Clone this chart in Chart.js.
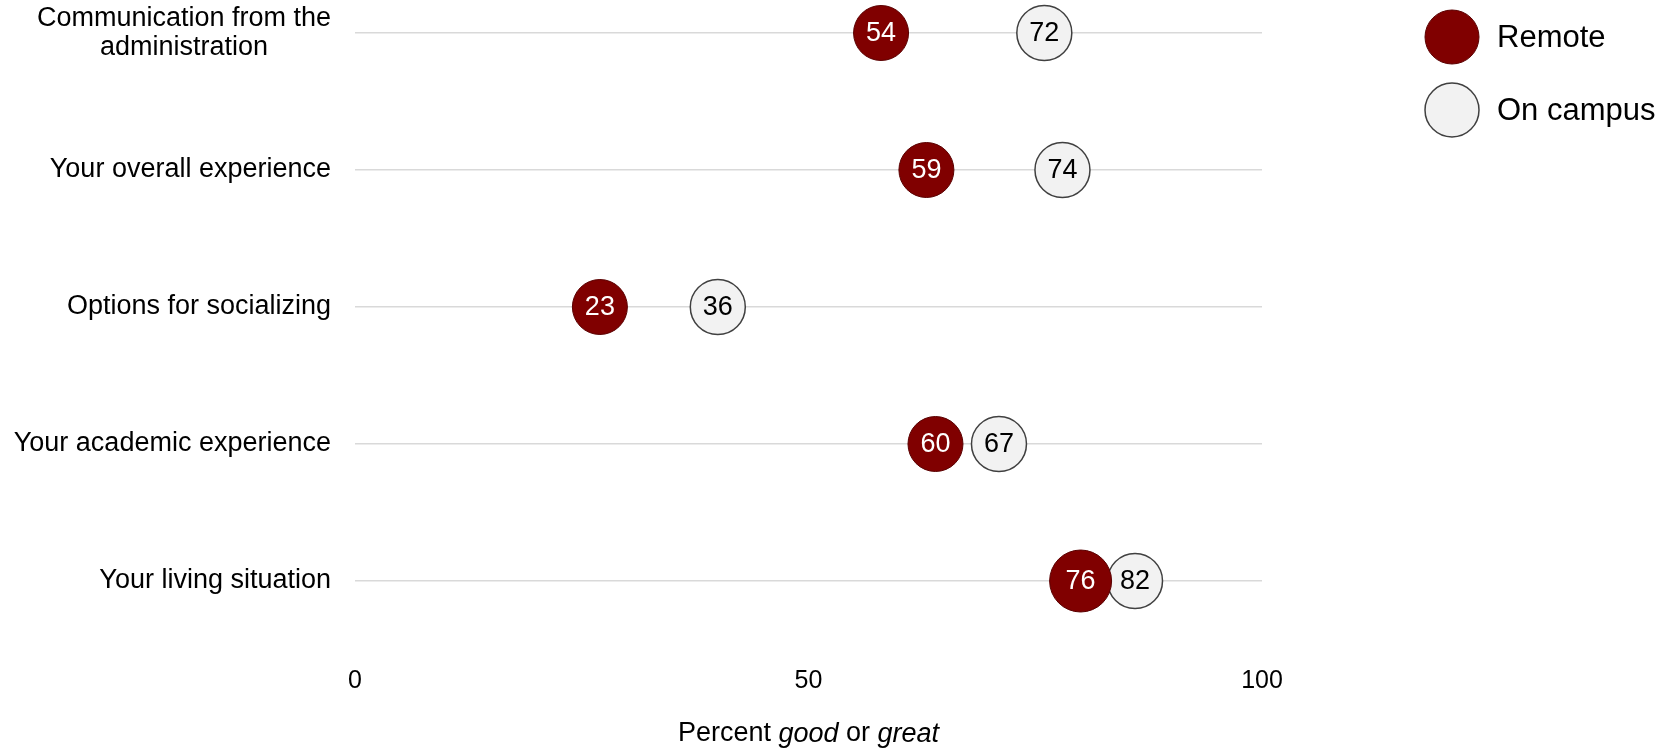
<!DOCTYPE html>
<html>
<head>
<meta charset="utf-8">
<title>Remote vs on campus</title>
<script src="https://cdn.jsdelivr.net/npm/chart.js@4/dist/chart.umd.min.js"></script>
<style>
  body { margin: 0; background: #fff; }
  #wrap { width: 1677px; height: 749px; }
</style>
</head>
<body>
<div id="wrap"><canvas id="chart"></canvas></div>
<script>
// Data
const categories = [
  ["Communication from the", "administration"],
  "Your overall experience",
  "Options for socializing",
  "Your academic experience",
  "Your living situation"
];
const remoteValues = [54, 59, 23, 60, 76];
const campusValues = [72, 74, 36, 67, 82];
const seriesNames = ["Remote", "On campus"];
const xTicks = [0, 50, 100];
const axisTitle = [["Percent ", false], ["good", true], [" or ", false], ["great", true]];

const FONT = '"Liberation Sans", Arial, sans-serif';

function toPoints(values) {
  return values.map((v, i) => ({ x: v, y: i }));
}

// draws category labels, value labels, legend and the mixed-style axis title
const extras = {
  id: "extras",
  afterDatasetsDraw(chart) {
    const ctx = chart.ctx;
    ctx.save();
    ctx.font = "27px " + FONT;
    ctx.textAlign = "center";
    ctx.textBaseline = "middle";
    chart.data.datasets.forEach((ds, i) => {
      const meta = chart.getDatasetMeta(i);
      ctx.fillStyle = ds.labelColor;
      meta.data.forEach((pt, j) => {
        ctx.fillText(String(ds.data[j].x), pt.x, pt.y + 1);
      });
    });
    ctx.restore();
  },
  afterDraw(chart) {
    const ctx = chart.ctx;
    const area = chart.chartArea;
    const yScale = chart.scales.y;
    ctx.save();
    ctx.fillStyle = "#000";
    ctx.textBaseline = "middle";

    // category labels
    ctx.font = "27px " + FONT;
    const right = area.left - 24;
    categories.forEach((cat, i) => {
      const lines = Array.isArray(cat) ? cat : [cat];
      const widest = Math.max(...lines.map(l => ctx.measureText(l).width));
      const cy = yScale.getPixelForValue(i);
      const lh = 29;
      ctx.textAlign = "center";
      lines.forEach((l, k) => {
        ctx.fillText(l, right - widest / 2, cy + (k - (lines.length - 1) / 2) * lh);
      });
    });

    // legend
    ctx.font = "31px " + FONT;
    ctx.textAlign = "left";
    chart.data.datasets.forEach((ds, i) => {
      const cy = 37 + i * 73;
      ctx.beginPath();
      ctx.arc(1452, cy, 27, 0, Math.PI * 2);
      ctx.fillStyle = ds.backgroundColor;
      ctx.fill();
      ctx.lineWidth = ds.borderWidth;
      ctx.strokeStyle = ds.borderColor;
      ctx.stroke();
      ctx.fillStyle = "#000";
      ctx.fillText(ds.label, 1497, cy + 1);
    });

    // x axis title with italic words
    const parts = axisTitle.map(([t, it]) => {
      ctx.font = (it ? "italic " : "") + "27px " + FONT;
      return { t, it, w: ctx.measureText(t).width };
    });
    const total = parts.reduce((s, p) => s + p.w, 0);
    let x = (area.left + area.right) / 2 - total / 2;
    parts.forEach(p => {
      ctx.font = (p.it ? "italic " : "") + "27px " + FONT;
      ctx.fillText(p.t, x, 734);
      x += p.w;
    });
    ctx.restore();
  }
};

new Chart(document.getElementById("chart"), {
  type: "scatter",
  data: {
    datasets: [
      {
        label: seriesNames[0],
        data: toPoints(remoteValues),
        backgroundColor: "#800000",
        borderColor: "#5a0000",
        borderWidth: 1,
        labelColor: "#fff",
        pointRadius: [27.5, 27.5, 27.5, 27.5, 31],
        pointHoverRadius: [27.5, 27.5, 27.5, 27.5, 31],
        xAxisID: "xDots",
        clip: false
      },
      {
        label: seriesNames[1],
        data: toPoints(campusValues),
        backgroundColor: "#f2f2f2",
        borderColor: "#404040",
        borderWidth: 1.5,
        labelColor: "#000",
        pointRadius: 27.5,
        pointHoverRadius: 27.5,
        xAxisID: "xDots",
        clip: false
      }
    ]
  },
  options: {
    responsive: true,
    maintainAspectRatio: false,
    animation: false,
    events: [],
    layout: { padding: { left: 355, right: 415, top: 33, bottom: 54 } },
    plugins: {
      legend: { display: false },
      tooltip: { enabled: false }
    },
    scales: {
      x: {
        type: "linear",
        position: "bottom",
        min: 0,
        max: 100,
        afterBuildTicks: axis => { axis.ticks = xTicks.map(v => ({ value: v })); },
        afterFit: s => { s.paddingLeft = 0; s.paddingRight = 0; s.height = 114; },
        grid: { display: false, drawTicks: false },
        border: { display: false },
        ticks: { padding: 85, color: "#000", font: { family: FONT, size: 25 } }
      },
      // the dots in the source sit about 4 points right of the printed axis
      xDots: {
        type: "linear",
        position: "bottom",
        display: false,
        min: -4,
        max: 96
      },
      y: {
        type: "linear",
        reverse: true,
        min: 0,
        max: categories.length - 1,
        afterBuildTicks: axis => { axis.ticks = categories.map((c, i) => ({ value: i })); },
        ticks: { display: false },
        grid: { color: "#d9d9d9", lineWidth: 1.5, drawTicks: false },
        border: { display: false }
      }
    }
  },
  plugins: [extras]
});
</script>
</body>
</html>
